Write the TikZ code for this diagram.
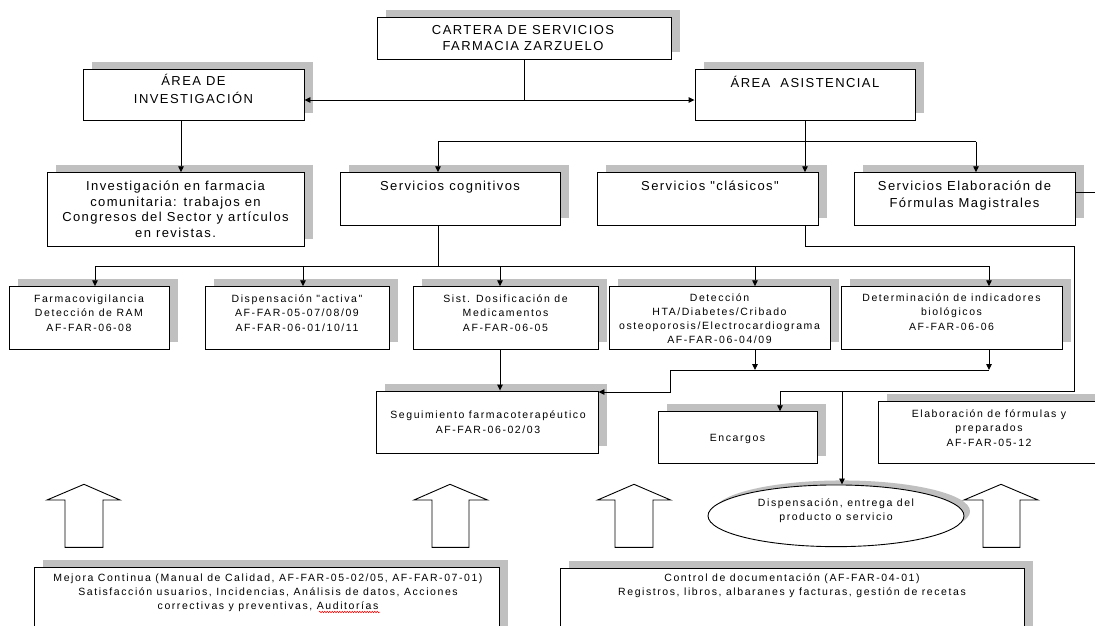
\documentclass[tikz,border=0pt]{standalone}
\usepackage{fontspec}
\setmainfont{Liberation Sans}
\newfontfamily\fbig[LetterSpace=11]{Liberation Sans}
\newfontfamily\fsml[LetterSpace=15]{Liberation Sans}
\usetikzlibrary{arrows.meta,fit,shapes.geometric,decorations.pathmorphing}
\definecolor{shd}{HTML}{C0C0C0}
\newcommand\mybox[5]{%
  \fill[shd] (#2+8.5,#3-7.5) rectangle (#4+8.5,#5-7.5);
  \path (#2,#3) coordinate (#1-a) (#4,#5) coordinate (#1-b);
  \node[boxst, fit=(#1-a)(#1-b)] (#1) {};}
\newcommand\tl[1]{\begin{tabular}[t]{@{}c@{}}#1\end{tabular}}
\begin{document}
\begin{tikzpicture}[x=1pt,y=-1pt,
  boxst/.style={draw=black, fill=white, line width=0.9pt, inner sep=0pt},
  bigt/.style={anchor=base, inner sep=0pt, font=\fbig\fontsize{13}{15.7}\selectfont},
  smlt/.style={anchor=base, inner sep=0pt, font=\fsml\fontsize{10.5}{14}\selectfont},
  conn/.style={line width=0.9pt},
  arr/.style={conn, -{Triangle[length=6pt,width=5.5pt]}},
  blockarrow/.style={draw, line width=0.9pt, fill=white, line join=miter},
]
\clip (0,0) rectangle (1095,625);
\fill[white] (0,0) rectangle (1095,625);

% boxes
\mybox{cart}{377}{17.3}{671}{59.3}
\mybox{ainv}{83}{69.3}{304}{120.7}
\mybox{aasi}{695}{69.3}{915}{120.7}
\mybox{inv}{47}{172.7}{304}{246}
\mybox{cog}{340}{172.7}{560}{225.3}
\mybox{clas}{597}{172.7}{818}{225.3}
\mybox{elab}{854}{172.7}{1075}{225.3}
\mybox{farm}{9.5}{286.7}{169}{349.3}
\mybox{disp}{205}{286.7}{389}{349.3}
\mybox{sist}{413}{286.7}{598}{349.3}
\mybox{det}{609}{286.7}{830}{349.3}
\mybox{bio}{841}{286.7}{1062}{349.3}
\mybox{seg}{376}{391}{598}{453.3}
\mybox{enc}{658}{411.7}{817.5}{463.3}
\mybox{elf}{878}{401.7}{1100}{463.3}
\mybox{mej}{34}{567.3}{499}{640}
\mybox{ctl}{560}{568.3}{1024}{640}

% ellipse
\fill[shd] (842,511.3) ellipse [x radius=128, y radius=30.85];
\node[ellipse, draw=black, fill=white, line width=0.9pt, minimum width=256, minimum height=61.7, inner sep=0pt] (entrega) at (836,515.8) {};

% block arrows
\draw[blockarrow] (84,484.3) -- (120,500) -- (103,500) -- (103,547.3) -- (65,547.3) -- (65,500) -- (47,500) -- cycle;
\draw[blockarrow] (450,484.3) -- (487.5,500) -- (469,500) -- (469,547.3) -- (432,547.3) -- (432,500) -- (414,500) -- cycle;
\draw[blockarrow] (634,484.3) -- (670.6,500) -- (653,500) -- (653,547.3) -- (615,547.3) -- (615,500) -- (597.6,500) -- cycle;
\draw[blockarrow] (1001,484.3) -- (1038,500) -- (1020,500) -- (1020,547.3) -- (983,547.3) -- (983,500) -- (964,500) -- cycle;

% texts
\node[bigt] (tcart) at (523,34.5) {\tl{CARTERA DE SERVICIOS\\FARMACIA ZARZUELO}};
\node[bigt] (tainv) at (193.5,85.2) {\tl{ÁREA DE\\[2.6pt]INVESTIGACIÓN}};
\node[bigt] (taasi) at (805,87.8) {ÁREA~~ASISTENCIAL};
\node[bigt] (tinv) at (175.5,190.5) {\tl{Investigación en farmacia\\comunitaria: trabajos en\\Congresos del Sector y artículos\\en revistas.}};
\node[bigt] (tcog) at (450,190.5) {Servicios cognitivos};
\node[bigt] (tclas) at (710,190.5) {Servicios "clásicos"};
\node[bigt] (telab) at (964.5,190.2) {\tl{Servicios Elaboración de\\[1.9pt]Fórmulas Magistrales}};

\node[smlt] (tfarm) at (89,302) {\tl{Farmacovigilancia\\Detección de RAM\\[1.6pt]AF-FAR-06-08}};
\node[smlt] (tdisp) at (297,302) {\tl{Dispensación "activa"\\AF-FAR-05-07/08/09\\[1.6pt]AF-FAR-06-01/10/11}};
\node[smlt] (tsist) at (505.5,302) {\tl{Sist. Dosificación de\\Medicamentos\\[1.6pt]AF-FAR-06-05}};
\node[smlt] (tdet) at (719.5,301) {\tl{Detección\\HTA/Diabetes/Cribado\\osteoporosis/Electrocardiograma\\AF-FAR-06-04/09}};
\node[smlt] (tbio) at (951.5,301) {\tl{Determinación de indicadores\\biológicos\\[1.6pt]AF-FAR-06-06}};
\node[smlt] (tseg) at (488,418.7) {\tl{Seguimiento farmacoterapéutico\\[1pt]AF-FAR-06-02/03}};
\node[smlt] (tenc) at (737.5,441) {Encargos};
\node[smlt] (telf) at (989,417) {\tl{Elaboración de fórmulas y\\preparados\\[1.6pt]AF-FAR-05-12}};
\node[smlt] (tdsp) at (836,506.4) {\tl{Dispensación, entrega del\\producto o servicio}};
\node[smlt] (tmej) at (268,581.4) {\tl{Mejora Continua (Manual de Calidad, AF-FAR-05-02/05, AF-FAR-07-01)\\Satisfacción usuarios, Incidencias, Análisis de datos, Acciones\\correctivas y preventivas, Auditorías}};
\node[smlt] (tctl) at (792,581.4) {\tl{Control de documentación (AF-FAR-04-01)\\Registros, libros, albaranes y facturas, gestión de recetas}};
\draw[red, line width=0.5pt, decorate, decoration={snake, amplitude=0.8pt, segment length=2.5pt}] (319,612) -- (380,612);

% connectors
\coordinate (j0) at (524,100);
\draw[conn] (cart.south) -- (j0);
\draw[arr] (j0) -- (j0 -| ainv.east);
\draw[arr] (j0) -- (j0 -| aasi.west);
\coordinate (x181) at (181,0);
\draw[arr] (ainv.south -| x181) -- (inv.north -| x181);
\draw[arr] (aasi.south) -- (aasi.south |- clas.north);
\coordinate (h1) at (438,141.7);
\coordinate (h2) at (976,141.7);
\draw[conn] (h1) -- (h2);
\draw[arr] (h1) -- (h1 |- cog.north);
\draw[arr] (h2) -- (h2 |- elab.north);
\coordinate (e2) at (1100,192.7);
\draw[conn] (e2 -| elab.east) -- (e2);
\coordinate (r1) at (805,246);
\coordinate (r2) at (1074,391);
\coordinate (r3) at (780,391);
\coordinate (r4) at (842,391);
\draw[arr] (clas.south -| r1) -- (r1) -| (r2) -| (r3 |- enc.north);
\draw[arr] (r4) -- (r4 |- entrega.north);
\coordinate (g0) at (438,266);
\coordinate (gL) at (95,266);
\coordinate (g2) at (303,266);
\coordinate (g3) at (500,266);
\coordinate (g4) at (755,266);
\coordinate (gR) at (989,266);
\draw[conn] (cog.south -| g0) -- (g0);
\draw[conn] (gL) -- (gR);
\draw[arr] (gL) -- (gL |- farm.north);
\draw[arr] (g2) -- (g2 |- disp.north);
\draw[arr] (g3) -- (g3 |- sist.north);
\draw[arr] (g4) -- (g4 |- det.north);
\draw[arr] (gR) -- (gR |- bio.north);
\coordinate (d0) at (670,370);
\coordinate (d1) at (755,370);
\coordinate (d2) at (989,370);
\coordinate (d3) at (670,392);
\draw[arr] (det.south -| d1) -- (d1);
\draw[arr] (bio.south -| d2) -- (d2);
\draw[conn] (d0) -- (d2);
\draw[arr] (d0) -- (d3) -- (d3 -| seg.east);
\draw[arr] (sist.south -| g3) -- (seg.north -| g3);
\end{tikzpicture}
\end{document}
